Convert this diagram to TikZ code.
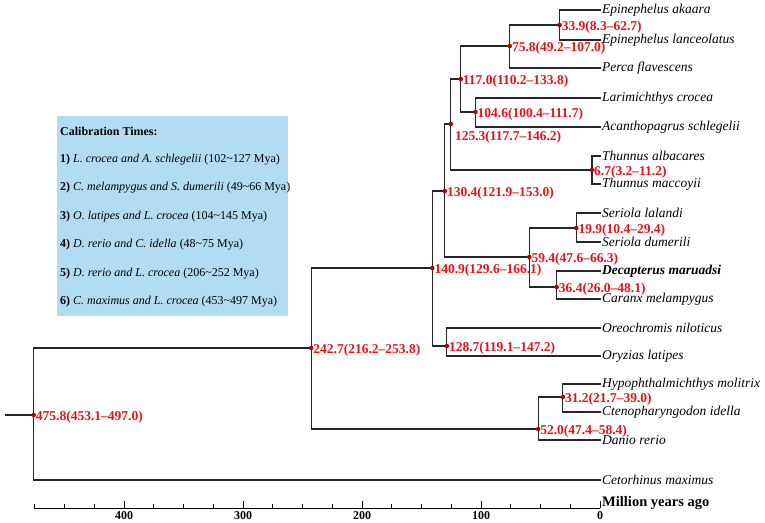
\documentclass[tikz,border=0pt]{standalone}
\usepackage{fontspec}
\setmainfont{Liberation Serif}
\usetikzlibrary{positioning}
\definecolor{calblue}{RGB}{178,220,242}
\definecolor{agered}{RGB}{228,20,28}
\definecolor{dotred}{RGB}{190,0,0}
\tikzset{
  taxon/.style={anchor=west, inner sep=1pt, font=\fontsize{13.5}{14}\selectfont\itshape},
  agelabel/.style={anchor=west, inner sep=1pt, text=agered, font=\fontsize{13.5}{14}\selectfont\bfseries},
  branch/.style={line width=1.1pt, black!85},
  dot/.style={circle, fill=dotred, inner sep=0pt, minimum size=4.5pt},
}
\begin{document}
\begin{tikzpicture}[x=1pt, y=-1pt]
\useasboundingbox (0,0) rectangle (765,522);
    %Calibration box
\fill[calblue] (57,116) rectangle (288,316);
\node[anchor=west, inner sep=1pt, font=\fontsize{12}{13}\selectfont\bfseries] (caltitle) at (59,131) {Calibration Times:};
\foreach \n/\txt/\rng [count=\i] in {
  1/{L. crocea and A. schlegelii}/{102\textasciitilde127 Mya},
  2/{C. melampygus and S. dumerili}/{49\textasciitilde66 Mya},
  3/{O. latipes and L. crocea}/{104\textasciitilde145 Mya},
  4/{D. rerio and C. idella}/{48\textasciitilde75 Mya},
  5/{D. rerio and L. crocea}/{206\textasciitilde252 Mya},
  6/{C. maximus and L. crocea}/{453\textasciitilde497 Mya}}
\node[anchor=west, inner sep=1pt, font=\fontsize{12}{13}\selectfont] (cal\n) at (59,131+\i*28.5) {\textbf{\n)} \textit{\txt} (\rng)};
    %Tips
\foreach \name/\txt/\y in {
  akaara/Epinephelus akaara/10, lanceo/Epinephelus lanceolatus/40,
  perca/Perca flavescens/68, larim/Larimichthys crocea/98,
  acanth/Acanthopagrus schlegelii/127, albac/Thunnus albacares/156,
  maccoy/Thunnus maccoyii/184, lalandi/Seriola lalandi/213,
  dumer/Seriola dumerili/242, caranx/Caranx melampygus/299,
  oreo/Oreochromis niloticus/328, oryz/Oryzias latipes/356,
  hypo/Hypophthalmichthys molitrix/384, cteno/Ctenopharyngodon idella/412,
  danio/Danio rerio/440, ceto/Cetorhinus maximus/480}
\node[taxon] (\name) at (601,\y) {\txt};
\node[taxon, font=\fontsize{13.5}{14}\selectfont\itshape\bfseries] (decap) at (601,271) {Decapterus maruadsi};
    %Internal nodes: name/age/y
\foreach \name/\a/\y in {r475/475.8/415, n242/242.7/348, n140/140.9/268,
  n130/130.4/191, n128/128.7/346, n125/125.3/124, n117/117.0/79,
  n104/104.6/112, n75/75.8/46, n59/59.4/257, n52/52.0/429,
  n36/36.4/287, n33/33.9/25, n31/31.2/397, n19/19.9/228, n6/6.7/170}
\coordinate (\name) at ({600-1.19*\a},\y);
    %Branches
\draw[branch] (5,415) -- (r475);
\foreach \p/\c in {r475/n242, r475/ceto.west, n242/n140, n242/n52,
  n140/n130, n140/n128, n130/n125, n130/n59, n125/n117, n125/n6,
  n117/n75, n117/n104, n75/n33, n75/perca.west, n33/akaara.west,
  n33/lanceo.west, n104/larim.west, n104/acanth.west, n6/albac.west,
  n6/maccoy.west, n59/n19, n59/n36, n19/lalandi.west, n19/dumer.west,
  n36/decap.west, n36/caranx.west, n128/oreo.west, n128/oryz.west,
  n52/n31, n52/danio.west, n31/hypo.west, n31/cteno.west}
\draw[branch] (\p) |- (\c);
    %Ages
\foreach \name/\txt in {r475/475.8(453.1--497.0), n242/242.7(216.2--253.8),
  n140/140.9(129.6--166.1), n130/130.4(121.9--153.0), n128/128.7(119.1--147.2),
  n117/117.0(110.2--133.8), n104/104.6(100.4--111.7), n75/75.8(49.2--107.0),
  n59/59.4(47.6--66.3), n52/52.0(47.4--58.4), n36/36.4(26.0--48.1),
  n33/33.9(8.3--62.7), n31/31.2(21.7--39.0), n19/19.9(10.4--29.4), n6/6.7(3.2--11.2)}
{\node[dot] at (\name) {};
 \node[agelabel] (lab\name) at ([xshift=1pt,yshift=-2pt]\name) {\txt};}
\node[dot] at (n125) {};
\node[agelabel] (labn125) at ([xshift=3pt,yshift=-13pt]n125) {125.3(117.7--146.2)};
    %Axis
\draw[line width=0.8pt] ({600-1.19*475.8},508) -- (600,508);
\foreach \a in {0,25,...,475}
\draw[line width=0.6pt] ({600-1.19*\a},508) -- ({600-1.19*\a},504);
\foreach \a in {0,100,...,400}
{\draw[line width=0.8pt] ({600-1.19*\a},508) -- ({600-1.19*\a},501);
 \node[inner sep=0pt, font=\fontsize{12}{13}\selectfont\bfseries] (tick\a) at ({600-1.19*\a},515.5) {\a};}
\node[anchor=west, inner sep=1pt, font=\fontsize{14.5}{15}\selectfont\bfseries] (axtitle) at (601,503) {Million years ago};
\end{tikzpicture}
\end{document}
